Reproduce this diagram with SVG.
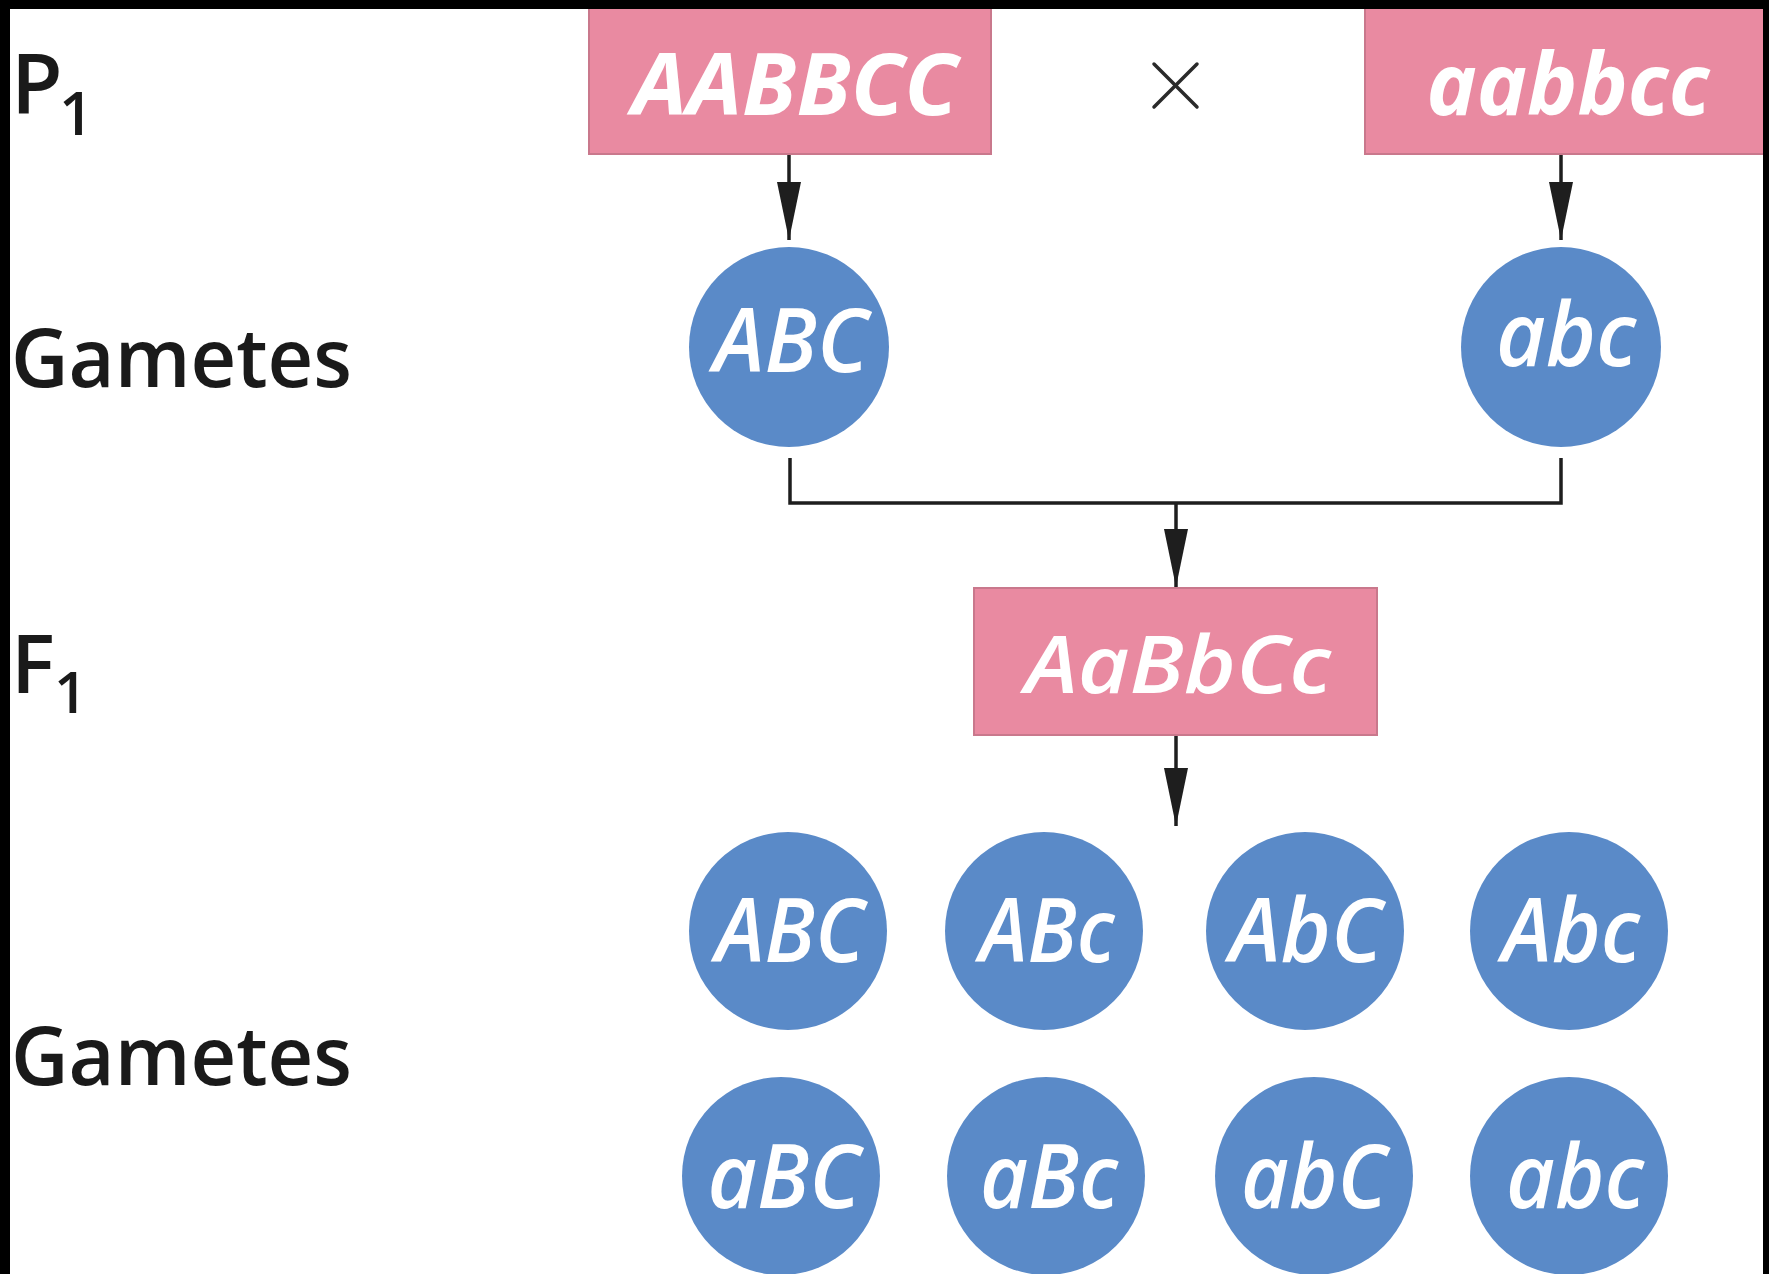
<svg xmlns="http://www.w3.org/2000/svg" width="1769" height="1274" viewBox="0 0 1769 1274">
  <style>
    .label { font-family: "Open Sans", "Liberation Sans", sans-serif; font-weight: 600; fill: #1a1a1a; }
    .box { fill: #e98aa1; stroke: #c9788c; stroke-width: 2; }
    .gamete { fill: #5a8ac8; }
    .allele { font-family: "Open Sans", "Noto Sans", sans-serif; font-style: italic; fill: #ffffff; text-anchor: middle; }
    .g { font-size: 88px; font-weight: 600; }
    .link { fill: none; stroke: #1e1e1e; stroke-width: 3.5; }
  </style>
  <defs>
    <marker id="head" markerUnits="userSpaceOnUse" markerWidth="60" markerHeight="30" viewBox="0 0 60 30" refX="58" refY="15" orient="auto">
      <path d="M0,3 L58,15 L0,27 Z" fill="#1e1e1e"/>
    </marker>
  </defs>

  <rect x="0" y="0" width="1769" height="1274" fill="#ffffff"/>

  <!-- generation labels -->
  <g id="label-p1">
    <text class="label" x="11" y="113" font-size="84">P</text>
    <text class="label" x="59" y="135" font-size="60">1</text>
  </g>
  <g id="label-gametes-1">
    <text class="label" x="11" y="387" font-size="82" textLength="341" lengthAdjust="spacingAndGlyphs">Gametes</text>
  </g>
  <g id="label-f1">
    <text class="label" x="11" y="693" font-size="82">F</text>
    <text class="label" x="54" y="713" font-size="58">1</text>
  </g>
  <g id="label-gametes-2">
    <text class="label" x="11" y="1085" font-size="82" textLength="341" lengthAdjust="spacingAndGlyphs">Gametes</text>
  </g>

  <!-- connectors -->
  <g id="connectors">
    <path class="link" d="M789,154 V240" marker-end="url(#head)"/>
    <path class="link" d="M1561,154 V240" marker-end="url(#head)"/>
    <path class="link" d="M790,458 V503 H1561 V458"/>
    <path class="link" d="M1176,503 V587" marker-end="url(#head)"/>
    <path class="link" d="M1176,735 V826" marker-end="url(#head)"/>
  </g>

  <!-- cross sign -->
  <g id="cross" stroke="#2a2a2a" stroke-width="3.5" stroke-linecap="round">
    <line x1="1154" y1="64" x2="1197" y2="107"/>
    <line x1="1197" y1="64" x2="1154" y2="107"/>
  </g>

  <!-- parents -->
  <g id="parent-AABBCC">
    <rect class="box" x="589" y="0" width="402" height="154"/>
    <text class="allele" x="795" y="115" font-size="86" font-weight="700" textLength="326" lengthAdjust="spacingAndGlyphs">AABBCC</text>
  </g>
  <g id="parent-aabbcc">
    <rect class="box" x="1365" y="0" width="410" height="154"/>
    <text class="allele" x="1568" y="115" font-size="86" font-weight="700" textLength="283" lengthAdjust="spacingAndGlyphs">aabbcc</text>
  </g>

  <!-- parental gametes -->
  <g id="gamete-P-ABC">
    <circle class="gamete" cx="789" cy="347" r="100"/>
    <text class="allele g" x="791" y="372" textLength="155" lengthAdjust="spacingAndGlyphs">ABC</text>
  </g>
  <g id="gamete-P-abc">
    <circle class="gamete" cx="1561" cy="347" r="100"/>
    <text class="allele g" x="1566" y="366" textLength="140" lengthAdjust="spacingAndGlyphs">abc</text>
  </g>

  <!-- F1 hybrid -->
  <g id="hybrid-AaBbCc">
    <rect class="box" x="974" y="588" width="403" height="147"/>
    <text class="allele" x="1178" y="693" font-size="80" font-weight="600" textLength="306" lengthAdjust="spacingAndGlyphs">AaBbCc</text>
  </g>

  <!-- F1 gametes -->
  <g id="gamete-ABC">
    <circle class="gamete" cx="788" cy="931" r="99"/>
    <text class="allele g" x="790" y="962" textLength="149" lengthAdjust="spacingAndGlyphs">ABC</text>
  </g>
  <g id="gamete-ABc">
    <circle class="gamete" cx="1044" cy="931" r="99"/>
    <text class="allele g" x="1047" y="962" textLength="135" lengthAdjust="spacingAndGlyphs">ABc</text>
  </g>
  <g id="gamete-AbC">
    <circle class="gamete" cx="1305" cy="931" r="99"/>
    <text class="allele g" x="1306" y="962" textLength="153" lengthAdjust="spacingAndGlyphs">AbC</text>
  </g>
  <g id="gamete-Abc">
    <circle class="gamete" cx="1569" cy="931" r="99"/>
    <text class="allele g" x="1571" y="962" textLength="138" lengthAdjust="spacingAndGlyphs">Abc</text>
  </g>
  <g id="gamete-aBC">
    <circle class="gamete" cx="781" cy="1176" r="99"/>
    <text class="allele g" x="784" y="1208" textLength="153" lengthAdjust="spacingAndGlyphs">aBC</text>
  </g>
  <g id="gamete-aBc">
    <circle class="gamete" cx="1046" cy="1176" r="99"/>
    <text class="allele g" x="1049" y="1208" textLength="138" lengthAdjust="spacingAndGlyphs">aBc</text>
  </g>
  <g id="gamete-abC">
    <circle class="gamete" cx="1314" cy="1176" r="99"/>
    <text class="allele g" x="1314" y="1208" textLength="146" lengthAdjust="spacingAndGlyphs">abC</text>
  </g>
  <g id="gamete-abc">
    <circle class="gamete" cx="1569" cy="1176" r="99"/>
    <text class="allele g" x="1575" y="1208" textLength="138" lengthAdjust="spacingAndGlyphs">abc</text>
  </g>

  <!-- outer frame -->
  <g id="frame" fill="#000000">
    <rect x="0" y="0" width="1769" height="9"/>
    <rect x="0" y="0" width="10" height="1274"/>
    <rect x="1763" y="0" width="6" height="1274"/>
  </g>
</svg>
